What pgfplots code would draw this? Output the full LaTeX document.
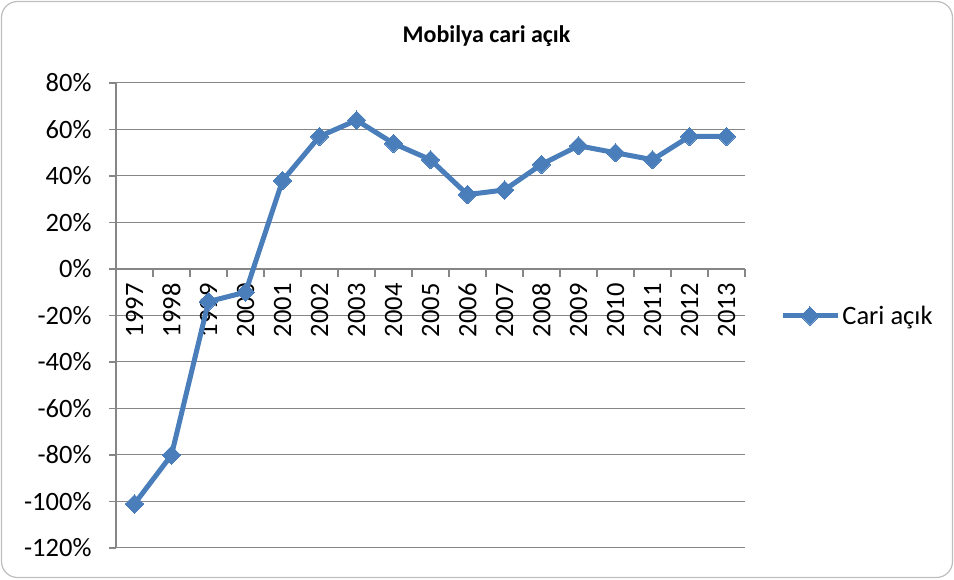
\documentclass[border=0pt]{standalone}
\usepackage{fontspec}
\setmainfont{Carlito}
\usepackage{pgfplots}
\pgfplotsset{compat=1.18}
\definecolor{ser}{RGB}{74,126,187}
\definecolor{gridc}{RGB}{134,134,134}
\definecolor{bord}{RGB}{190,190,190}
\begin{document}
\begin{tikzpicture}[x=1pt,y=1pt]
\useasboundingbox (0,0) rectangle (954,580);
\draw[bord, line width=1.2pt, rounded corners=16pt] (1.5,2.5) rectangle (952.5,578.5);
\node[font=\bfseries\fontsize{24}{28}\selectfont, anchor=base] at (486.5,537) {Mobilya cari açık};
\begin{axis}[
  at={(116pt,32pt)}, anchor=south west,
  scale only axis, width=629pt, height=465pt,
  xmin=-0.5, xmax=16.5, ymin=-120, ymax=80,
  axis x line=middle, axis y line=left,
  axis line style={-, draw=gridc, line width=1.2pt},
  ytick={-120,-100,...,80},
  ymajorgrids, grid style={draw=gridc, line width=1pt},
  yticklabel={\pgfmathprintnumber{\tick}\%},
  /pgf/number format/assume math mode=true,
  tick label style={font=\fontsize{26.5}{30}\selectfont, text=black},
  y tick label style={xshift=-14pt},
  ytick style={draw=gridc, line width=1.2pt},
  tick align=outside, major tick length=7pt, minor tick length=8pt,
  xtick={0,...,16},
  xticklabels={1997,1998,1999,2000,2001,2002,2003,2004,2005,2006,2007,2008,2009,2010,2011,2012,2013},
  x tick label style={rotate=90, anchor=east, xshift=-4pt},
  xtick style={draw=none},
  minor xtick={-0.5,0.5,...,16.5},
  minor x tick style={draw=gridc, line width=1.2pt},
  clip=false,
  legend style={at={(1.056,0.499)}, anchor=west, draw=none, fill=none,
    font=\fontsize{26.5}{30}\selectfont, inner sep=0pt},
  legend image code/.code={\draw[mark repeat=2,mark phase=2,#1] plot coordinates {(0pt,0pt) (27pt,0pt) (55pt,0pt)};},
]
\addplot[color=ser, line width=5pt, mark=square*, mark size=6.5pt,
  mark options={rotate=45, solid, fill=ser, line width=0pt}]
  coordinates {
  (0,-101) (1,-80) (2,-14) (3,-10) (4,38) (5,57) (6,64) (7,54) (8,47)
  (9,32) (10,34) (11,45) (12,53) (13,50) (14,47) (15,57) (16,57)
  };
\addlegendentry{Cari açık}
\end{axis}
\end{tikzpicture}
\end{document}
